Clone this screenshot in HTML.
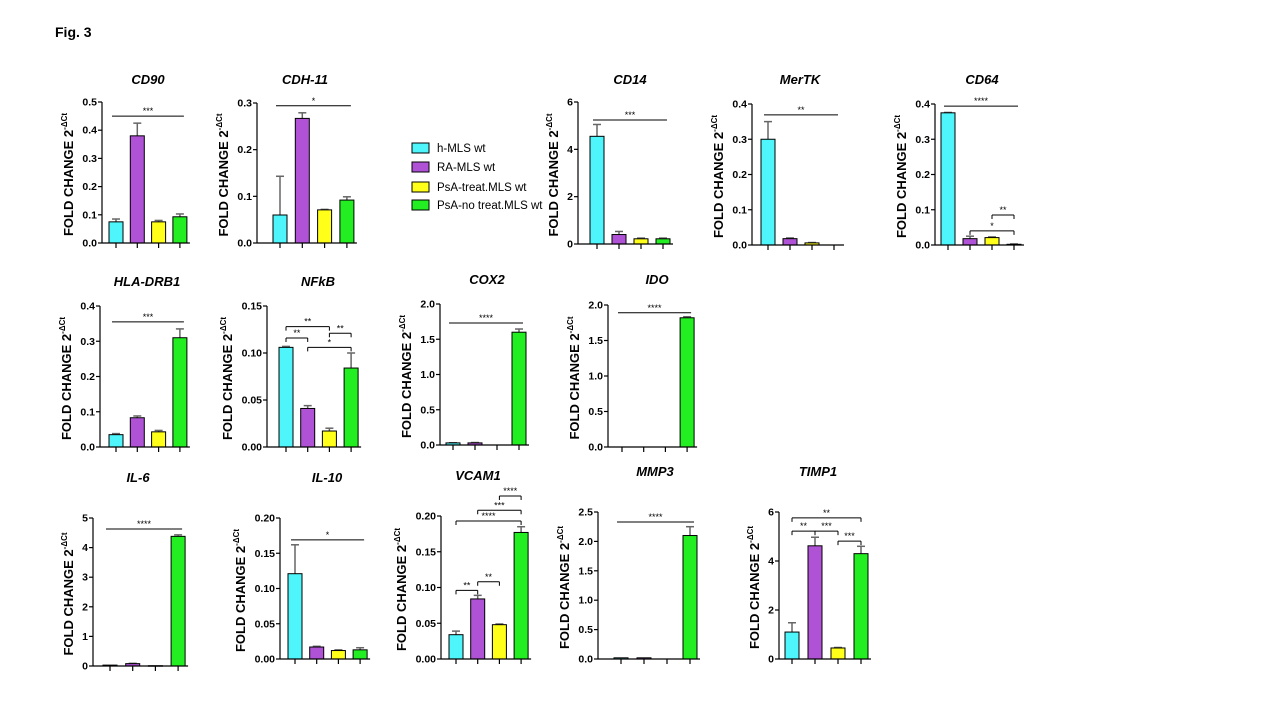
<!DOCTYPE html>
<html><head><meta charset="utf-8"><style>
html,body{margin:0;padding:0;background:#fff;}
svg{display:block;font-family:"Liberation Sans",Arial,sans-serif;}
</style></head><body>
<svg id="fig" width="1280" height="720" viewBox="0 0 1280 720">
<text x="55" y="37" font-size="14" font-weight="bold">Fig. 3</text>
<g>
<rect x="412" y="143" width="17" height="10" fill="#4ef5fa" stroke="#000"/>
<text x="437" y="152" font-size="11.5">h-MLS wt</text>
<rect x="412" y="162" width="17" height="10" fill="#b052d6" stroke="#000"/>
<text x="437" y="171" font-size="11.5">RA-MLS wt</text>
<rect x="412" y="182" width="17" height="10" fill="#ffff1a" stroke="#000"/>
<text x="437" y="191" font-size="11.5">PsA-treat.MLS wt</text>
<rect x="412" y="200" width="17" height="10" fill="#22ee22" stroke="#000"/>
<text x="437" y="209" font-size="11.5">PsA-no treat.MLS wt</text>
</g>
</svg>
<script>
// ---- data ----
const groups = ["h-MLS wt","RA-MLS wt","PsA-treat.MLS wt","PsA-no treat.MLS wt"];
const valsCD90=[0.075,0.38,0.075,0.093], errCD90=[0.01,0.045,0.005,0.01], ticksCD90=["0.0","0.1","0.2","0.3","0.4","0.5"];
const valsCDH11=[0.06,0.267,0.071,0.092], errCDH11=[0.083,0.012,0.001,0.007], ticksCDH11=["0.0","0.1","0.2","0.3"];
const valsCD14=[4.55,0.4,0.22,0.22], errCD14=[0.5,0.13,0.03,0.03], ticksCD14=["0","2","4","6"];
const valsMERTK=[0.3,0.018,0.006,0], errMERTK=[0.05,0.002,0.001,0], ticksMERTK=["0.0","0.1","0.2","0.3","0.4"];
const valsCD64=[0.375,0.018,0.021,0.002], errCD64=[0.001,0.007,0.002,0.001], ticksCD64=["0.0","0.1","0.2","0.3","0.4"];
const valsHLA=[0.035,0.083,0.043,0.31], errHLA=[0.003,0.005,0.004,0.025], ticksHLA=["0.0","0.1","0.2","0.3","0.4"];
const valsNFKB=[0.106,0.041,0.017,0.084], errNFKB=[0.001,0.003,0.003,0.016], ticksNFKB=["0.00","0.05","0.10","0.15"];
const valsCOX2=[0.03,0.03,0,1.6], errCOX2=[0.002,0.005,0,0.045], ticksCOX2=["0.0","0.5","1.0","1.5","2.0"];
const valsIDO=[0,0,0,1.82], errIDO=[0,0,0,0.015], ticksIDO=["0.0","0.5","1.0","1.5","2.0"];
const valsIL6=[0.03,0.08,0.01,4.38], errIL6=[0,0.01,0,0.05], ticksIL6=["0","1","2","3","4","5"];
const valsIL10=[0.121,0.017,0.012,0.013], errIL10=[0.041,0.001,0.001,0.003], ticksIL10=["0.00","0.05","0.10","0.15","0.20"];
const valsVCAM1=[0.034,0.084,0.048,0.177], errVCAM1=[0.005,0.005,0.001,0.008], ticksVCAM1=["0.00","0.05","0.10","0.15","0.20"];
const valsMMP3=[0.02,0.02,0,2.1], errMMP3=[0,0,0,0.15], ticksMMP3=["0.0","0.5","1.0","1.5","2.0","2.5"];
const valsTIMP1=[1.1,4.62,0.45,4.3], errTIMP1=[0.38,0.35,0.02,0.3], ticksTIMP1=["0","2","4","6"];
// significance brackets: [from bar, to bar, y value, label, end-ticks]
const sigCD90=[[0,3,0.45,"***",0]], sigCDH11=[[0,3,0.294,"*",0]], sigCD14=[[0,3,5.24,"***",0]];
const sigMERTK=[[0,3,0.369,"**",0]];
const sigCD64=[[0,3,0.394,"****",0],[2,3,0.085,"**",1],[1,3,0.04,"*",1]];
const sigHLA=[[0,3,0.355,"***",0]];
const sigNFKB=[[0,1,0.116,"**",1],[0,2,0.128,"**",1],[2,3,0.121,"**",1],[1,3,0.106,"*",1]];
const sigCOX2=[[0,3,1.73,"****",0]], sigIDO=[[0,3,1.89,"****",0]], sigIL6=[[0,3,4.63,"****",0]], sigIL10=[[0,3,0.169,"*",0]];
const sigVCAM1=[[2,3,0.228,"****",1],[1,3,0.208,"***",1],[0,3,0.193,"****",1],[0,1,0.096,"**",1],[1,2,0.108,"**",1]];
const sigMMP3=[[0,3,2.33,"****",0]];
const sigTIMP1=[[0,3,5.76,"**",1],[0,1,5.22,"**",1],[1,2,5.22,"***",1],[2,3,4.81,"***",1]];

// ---- layout (positions only) ----
const panels=[
 {id:"cd90",title:"CD90",tx:148,ty:84,ax:102,top:102,base:243,x0:116,step:21.3,v:valsCD90,e:errCD90,t:ticksCD90,s:sigCD90},
 {id:"cdh-11",title:"CDH-11",tx:305,ty:84,ax:257,top:103,base:243,x0:280,step:22.3,v:valsCDH11,e:errCDH11,t:ticksCDH11,s:sigCDH11},
 {id:"cd14",title:"CD14",tx:630,ty:84,ax:578,top:102,base:244,x0:597,step:22,v:valsCD14,e:errCD14,t:ticksCD14,s:sigCD14},
 {id:"mertk",title:"MerTK",tx:800,ty:84,ax:752,top:104,base:245,x0:768,step:22,v:valsMERTK,e:errMERTK,t:ticksMERTK,s:sigMERTK},
 {id:"cd64",title:"CD64",tx:982,ty:84,ax:935,top:104,base:245,x0:948,step:22,v:valsCD64,e:errCD64,t:ticksCD64,s:sigCD64},
 {id:"hla-drb1",title:"HLA-DRB1",tx:147,ty:286,ax:100,top:306,base:447,x0:116,step:21.3,v:valsHLA,e:errHLA,t:ticksHLA,s:sigHLA},
 {id:"nfkb",title:"NFkB",tx:318,ty:286,ax:267,top:306,base:447,x0:286,step:21.7,v:valsNFKB,e:errNFKB,t:ticksNFKB,s:sigNFKB},
 {id:"cox2",title:"COX2",tx:487,ty:284,ax:440,top:304,base:445,x0:453,step:22,v:valsCOX2,e:errCOX2,t:ticksCOX2,s:sigCOX2},
 {id:"ido",title:"IDO",tx:657,ty:284,ax:608,top:305,base:447,x0:622,step:21.7,v:valsIDO,e:errIDO,t:ticksIDO,s:sigIDO},
 {id:"il-6",title:"IL-6",tx:138,ty:482,ax:93,top:518,base:666,x0:110,step:22.7,v:valsIL6,e:errIL6,t:ticksIL6,s:sigIL6},
 {id:"il-10",title:"IL-10",tx:327,ty:482,ax:280,top:518,base:659,x0:295,step:21.7,v:valsIL10,e:errIL10,t:ticksIL10,s:sigIL10},
 {id:"vcam1",title:"VCAM1",tx:478,ty:480,ax:441,top:516,base:659,x0:456,step:21.7,v:valsVCAM1,e:errVCAM1,t:ticksVCAM1,s:sigVCAM1},
 {id:"mmp3",title:"MMP3",tx:655,ty:476,ax:598,top:512,base:659,x0:621,step:23,v:valsMMP3,e:errMMP3,t:ticksMMP3,s:sigMMP3},
 {id:"timp1",title:"TIMP1",tx:818,ty:476,ax:779,top:512,base:659,x0:792,step:23,v:valsTIMP1,e:errTIMP1,t:ticksTIMP1,s:sigTIMP1}
];
const colors=["#4ef5fa","#b052d6","#ffff1a","#22ee22"];
const NS="http://www.w3.org/2000/svg";
const svg=document.getElementById("fig");
function mk(tag,attrs,parent){const el=document.createElementNS(NS,tag);for(const k in attrs)el.setAttribute(k,attrs[k]);parent.appendChild(el);return el;}
function tw(s){let w=0;for(const c of s)w+=(c==='.')?3:6;return w;}

panels.forEach(p=>{
  const g=mk("g",{},svg);
  
  
  const max=parseFloat(p.t[p.t.length-1]);
  const y=v=>p.base-(v/max)*(p.base-p.top);
  const x=i=>p.x0+i*p.step;
  const title=mk("text",{x:p.tx,y:p.ty,"font-size":13,"font-weight":"bold","font-style":"italic","text-anchor":"middle"},g);
  title.textContent=p.title;
  
  
  const off=19+Math.max(...p.t.map(tw));
  const lab=mk("text",{x:0,y:0,"font-size":13,"font-weight":"bold","text-anchor":"middle",transform:`translate(${p.ax-off+5},${(p.top+p.base)/2+2}) rotate(-90)`},g);
  lab.innerHTML='FOLD CHANGE 2<tspan font-size="8" dy="-6">-ΔCt</tspan>';
  
  
  const yax=mk("line",{x1:p.ax,y1:p.top,x2:p.ax,y2:p.base,stroke:"#000","stroke-width":1.2},g);
  
  
  p.t.forEach((tl,k)=>{
    const vv=parseFloat(tl), yy=y(vv);
    mk("line",{x1:p.ax-4,y1:yy,x2:p.ax,y2:yy,stroke:"#000","stroke-width":1.2},g);
    const tt=mk("text",{x:p.ax-5,y:yy+3.5,"font-size":10.5,"font-weight":"bold","text-anchor":"end"},g);
    tt.textContent=tl;
    
    
  });
  p.v.forEach((val,i)=>{
    const cx=x(i), yt=y(val);
    if(p.e[i]>0){
      const ye=y(val+p.e[i]);
      mk("line",{x1:cx,y1:yt,x2:cx,y2:ye,stroke:"#666","stroke-width":1.5},g);
      mk("line",{x1:cx-4,y1:ye,x2:cx+4,y2:ye,stroke:"#666","stroke-width":1.5},g);
    }
    if(val>0){
      const b=mk("rect",{x:cx-7,y:yt,width:14,height:Math.max(p.base-yt,0.5),fill:colors[i],stroke:"#000","stroke-width":1},g);
      
      
    }
    mk("line",{x1:cx,y1:p.base,x2:cx,y2:p.base+5,stroke:"#000","stroke-width":1.2},g);
  });
  const xax=mk("line",{x1:p.ax,y1:p.base,x2:x(3)+10,y2:p.base,stroke:"#000","stroke-width":1.2},g);
  
  
  p.s.forEach(s=>{
    const x1=x(s[0])-(s[4]?0:4), x2=x(s[1])+(s[4]?0:4), yy=y(s[2]);
    mk("line",{x1:x1,y1:yy,x2:x2,y2:yy,stroke:"#000","stroke-width":1},g);
    if(s[4]){
      mk("line",{x1:x1,y1:yy,x2:x1,y2:yy+4,stroke:"#000","stroke-width":1},g);
      mk("line",{x1:x2,y1:yy,x2:x2,y2:yy+4,stroke:"#000","stroke-width":1},g);
    }
    const st=mk("text",{x:(x1+x2)/2,y:yy-2,"font-size":9,"text-anchor":"middle"},g);
    st.textContent=s[3];
    
    
  });
});
</script>
</body></html>
